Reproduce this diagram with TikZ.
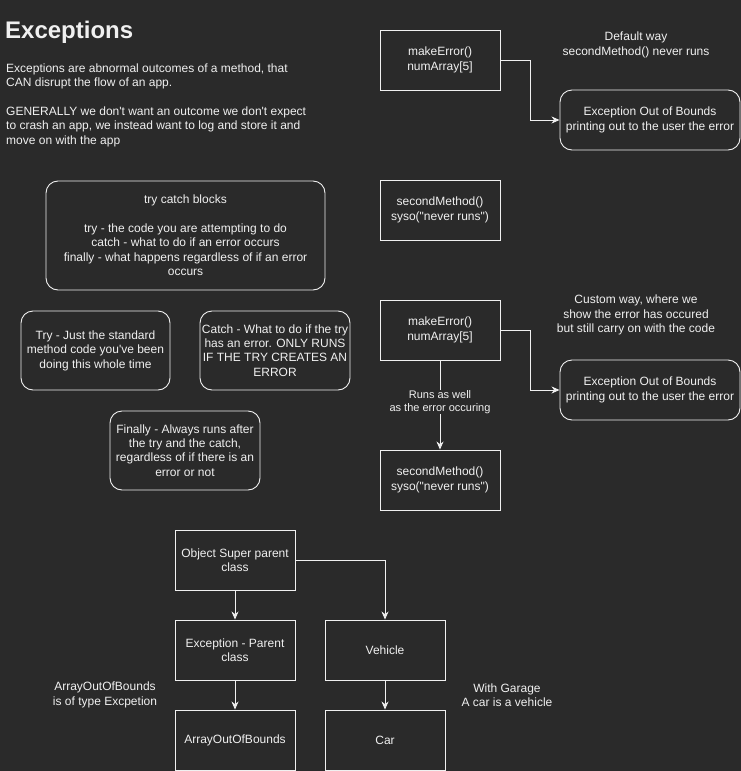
\documentclass[tikz,border=0pt]{standalone}
\usepackage{fontspec}
\setmainfont{Liberation Sans}[Ligatures=TeXOff]
\usetikzlibrary{arrows.meta}
\definecolor{bg}{HTML}{2A2A2A}
\definecolor{fg}{HTML}{F0F0F0}
\begin{document}
\begin{tikzpicture}[x=1pt,y=-1pt,
  every node/.style={text=fg,font=\fontsize{12}{14.4}\selectfont,inner sep=0pt,align=center},
  box/.style={draw=fg,fill=bg,line width=0.9pt,minimum width=120pt,minimum height=60pt},
  rbox/.style={draw=fg,fill=bg,line width=0.9pt,rounded corners=12pt},
  conn/.style={draw=fg,line width=0.9pt,-{Stealth[length=8pt,width=7pt,inset=2.5pt]}},
  lbl/.style={font=\fontsize{11}{13.2}\selectfont,fill=bg}]
\fill[bg] (0,0) rectangle (741,771);
\useasboundingbox (0,0) rectangle (741,771);

% title and intro
\node[anchor=west,font=\bfseries\fontsize{24}{28}\selectfont] (title) at (5,32.5) {Exceptions};
\node[anchor=north west,align=left] (intro) at (6,63.5) {Exceptions are abnormal outcomes of a method, that\\CAN disrupt the flow of an app.\\[14.4pt]GENERALLY we don't want an outcome we don't expect\\to crash an app, we instead want to log and store it and\\move on with the app};

% try catch explanation boxes
\node[rbox,minimum width=279pt,minimum height=109pt] (tcb) at (185.5,235.5) {try catch blocks\\[14.4pt]try - the code you are attempting to do\\catch - what to do if an error occurs\\finally - what happens regardless of if an error\\occurs};
\node[rbox,minimum width=149pt,minimum height=79pt] (try) at (95.5,350.5) {Try - Just the standard\\method code you've been\\doing this whole time};
\node[rbox,minimum width=150pt,minimum height=79pt] (catch) at (275,350.5) {Catch - What to do if the try\\has an error. ONLY RUNS\\IF THE TRY CREATES AN\\ERROR};
\node[rbox,minimum width=150pt,minimum height=79pt] (fin) at (185,450.5) {Finally - Always runs after\\the try and the catch,\\regardless of if there is an\\error or not};

% default way
\node[box] (mk1) at (440,60) {makeError()\\numArray[5]};
\node[rbox,minimum width=180pt,minimum height=60pt] (ex1) at (650,120) {Exception Out of Bounds\\printing out to the user the error};
\node[box] (sm1) at (440,210) {secondMethod()\\syso("never runs")};
\node (def) at (636,45) {Default way\\secondMethod() never runs};
\coordinate (k1) at (530,60);
\coordinate (k2) at (530,120);
\draw[conn] (mk1.east) -- (k1) -- (k2) -- (ex1.west);

% custom way
\node[box] (mk2) at (440,330) {makeError()\\numArray[5]};
\node[rbox,minimum width=180pt,minimum height=60pt] (ex2) at (650,390) {Exception Out of Bounds\\printing out to the user the error};
\node[box] (sm2) at (440,480) {secondMethod()\\syso("never runs")};
\node (cus) at (636,315) {Custom way, where we\\show the error has occured\\but still carry on with the code};
\coordinate (k3) at (530,330);
\coordinate (k4) at (530,390);
\draw[conn] (mk2.east) -- (k3) -- (k4) -- (ex2.west);
\draw[conn] (mk2.south) -- (sm2.north);
\node[lbl] (runs) at (440,402) {Runs as well\\as the error occuring};

% class hierarchy
\node[box] (obj) at (235,560) {Object Super parent\\class};
\node[box] (exc) at (235,650) {Exception - Parent\\class};
\node[box] (veh) at (385,650) {Vehicle};
\node[box] (arr) at (235,740) {ArrayOutOfBounds};
\node[box] (car) at (385,740) {Car};
\coordinate (k5) at (385,560);
\draw[conn] (obj.south) -- (exc.north);
\draw[conn] (obj.east) -- (k5) -- (veh.north);
\draw[conn] (exc.south) -- (arr.north);
\draw[conn] (veh.south) -- (car.north);
\node (arrl) at (105,695) {ArrayOutOfBounds\\is of type Excpetion};
\node (carl) at (507,695) {With Garage\\A car is a vehicle};
\end{tikzpicture}
\end{document}
